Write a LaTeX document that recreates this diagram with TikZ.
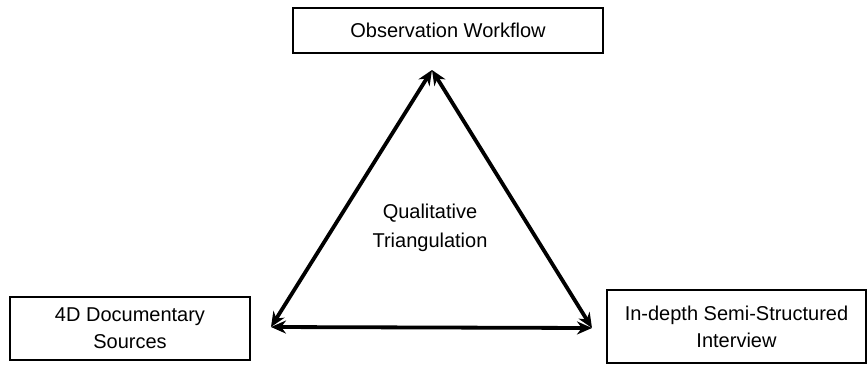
\documentclass[tikz,border=0pt]{standalone}
\usepackage{fontspec}
\setmainfont{Liberation Sans}
\usetikzlibrary{arrows.meta, positioning}

\tikzset{
  srcbox/.style={draw, line width=1.3pt, align=center, inner sep=0pt,
    font=\fontsize{20}{27}\selectfont},
  triarrow/.style={<->, line width=3.8pt}
}

\begin{document}
\begin{tikzpicture}[x=1pt, y=-1pt, >={Stealth[length=15pt, width=13pt]}]
    \useasboundingbox (0,0) rectangle (868,365);

    % =================================================================
    % 1. CAC NGUON DU LIEU (ba hop)
    % =================================================================
    \node[srcbox, minimum width=310pt, minimum height=45pt] (obs) at (448,30.5) {Observation Workflow};
    \node[srcbox, minimum width=240pt, minimum height=63pt] (doc) at (130,328.5) {4D Documentary\\Sources};
    \node[srcbox, minimum width=259pt, minimum height=73pt] (intv) at (736.5,326.5) {In-depth Semi-Structured\\Interview};

    % =================================================================
    % 2. TAM GIAC VA NHAN O GIUA
    % =================================================================
    \coordinate (apex) at (432,70);
    \coordinate (lft) at (271,327);
    \coordinate (rgt) at (592,328);

    \draw[triarrow] (lft) -- (apex);
    \draw[triarrow] (apex) -- (rgt);
    \draw[triarrow] (lft) -- (rgt);

    \node[align=center, font=\fontsize{20}{29}\selectfont] (tri) at (430,228) {Qualitative\\Triangulation};

\end{tikzpicture}
\end{document}
